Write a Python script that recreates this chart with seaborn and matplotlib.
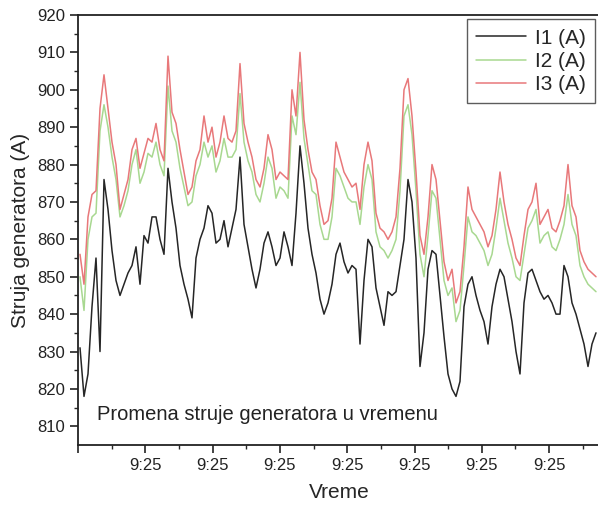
import numpy as np
import pandas as pd
import matplotlib
matplotlib.use("Agg")
from matplotlib import pyplot as plt
import seaborn as sns

# struje tri faze generatora, ocitane sa grafika (A)
i1 = [831, 818, 824, 842, 855, 830, 876, 868, 857, 849,
      845, 848, 851, 853, 858, 848, 861, 859, 866, 866,
      860, 856, 879, 870, 863, 853, 848, 844, 839, 855,
      860, 863, 869, 867, 859, 860, 865, 858, 863, 868,
      882, 864, 858, 852, 847, 852, 859, 862, 858, 853,
      855, 862, 858, 853, 867, 885, 875, 863, 856, 851,
      844, 840, 843, 848, 856, 859, 854, 851, 853, 852,
      832, 849, 860, 858, 847, 842, 837, 846, 845, 846,
      853, 860, 876, 870, 855, 826, 835, 852, 857, 856,
      845, 834, 824, 820, 818, 822, 842, 848, 850, 845,
      841, 838, 832, 842, 848, 852, 850, 844, 838, 830,
      824, 843, 851, 852, 849, 846, 844, 845, 843, 840,
      840, 853, 850, 843, 840, 836, 832, 826, 832, 835]

i2 = [850, 841, 860, 866, 867, 889, 896, 890, 882, 876,
      866, 869, 873, 880, 884, 875, 878, 883, 882, 886,
      880, 877, 901, 889, 886, 879, 874, 869, 870, 877,
      880, 886, 882, 885, 878, 881, 887, 882, 882, 884,
      899, 886, 881, 878, 872, 870, 875, 882, 879, 871,
      874, 873, 871, 893, 888, 902, 887, 880, 873, 872,
      864, 860, 860, 866, 879, 877, 874, 871, 870, 870,
      864, 874, 880, 876, 862, 858, 857, 855, 857, 860,
      873, 893, 896, 888, 873, 856, 850, 861, 873, 871,
      860, 849, 845, 847, 838, 841, 853, 866, 862, 861,
      859, 857, 853, 856, 863, 871, 865, 859, 855, 850,
      849, 856, 863, 865, 868, 859, 861, 862, 858, 857,
      860, 864, 872, 864, 861, 853, 850, 848, 847, 846]

i3 = [856, 848, 866, 872, 873, 895, 904, 895, 886, 880,
      868, 872, 876, 884, 887, 879, 883, 887, 886, 891,
      884, 881, 909, 894, 891, 884, 878, 872, 874, 881,
      884, 893, 886, 890, 882, 886, 893, 887, 886, 889,
      907, 891, 886, 882, 876, 874, 879, 888, 884, 876,
      878, 877, 876, 900, 893, 910, 892, 884, 878, 876,
      869, 864, 865, 871, 886, 882, 878, 876, 874, 875,
      868, 880, 886, 881, 867, 863, 862, 860, 862, 866,
      879, 900, 903, 893, 878, 861, 856, 866, 880, 876,
      865, 854, 849, 852, 843, 846, 858, 874, 868, 866,
      864, 862, 858, 861, 868, 878, 870, 864, 860, 855,
      853, 861, 868, 870, 875, 864, 866, 868, 863, 862,
      865, 869, 880, 869, 866, 857, 854, 852, 851, 850]

labels = ["I1 (A)", "I2 (A)", "I3 (A)"]
colors = ["#262626", "#a8d890", "#e8787a"]
tick_labels = ["", "9:25", "9:25", "9:25", "9:25", "9:25", "9:25", "9:25"]

n = len(i1)
df = pd.DataFrame({"t": np.arange(n), "I1 (A)": i1, "I2 (A)": i2, "I3 (A)": i3})

sns.set_style("ticks")
plt.rcParams["font.family"] = ["Liberation Sans", "DejaVu Sans"]

fig = plt.figure(figsize=(5.98, 5.07), dpi=100)
ax = fig.add_axes([78 / 598, 1 - 445 / 507, 522 / 598, 430 / 507])

for lab, col in zip(labels, colors):
    sns.lineplot(data=df, x="t", y=lab, ax=ax, color=col, lw=1.1,
                 label=lab, estimator=None)

# ose
ax.set_xlim(-0.5, 130)
ax.set_ylim(805, 920)
step = 67.3 / 4
ax.set_xticks(np.arange(8) * step - 0.5)
ax.set_xticklabels(tick_labels)
ax.set_xticks(np.arange(8) * step - 0.5 + step / 2, minor=True)
ax.set_yticks(np.arange(810, 921, 10))
ax.set_yticks(np.arange(815, 920, 10), minor=True)
ax.tick_params(axis="both", which="major", direction="out", length=6, width=1.2,
               labelsize=12, colors="#222222")
ax.tick_params(axis="both", which="minor", direction="out", length=3, width=1.0)
for s in ["left", "bottom", "top"]:
    ax.spines[s].set_linewidth(1.3)
    ax.spines[s].set_color("#222222")
ax.spines["right"].set_visible(False)

ax.set_xlabel("Vreme", fontsize=15, labelpad=7)
ax.set_ylabel("Struja generatora (A)", fontsize=15, labelpad=5)

ax.text(0.036, 0.07, "Promena struje generatora u vremenu", transform=ax.transAxes,
        fontsize=14.5, va="center", ha="left", color="#222222")

leg = ax.legend(loc="upper right", bbox_to_anchor=(0.99, 0.99), borderaxespad=0,
                fontsize=15, frameon=True, fancybox=False, handlelength=2.4,
                labelspacing=0.2, borderpad=0.45, handletextpad=0.4)
leg.get_frame().set_edgecolor("#333333")
leg.get_frame().set_linewidth(1.0)

fig.savefig("out.png", dpi=100)
